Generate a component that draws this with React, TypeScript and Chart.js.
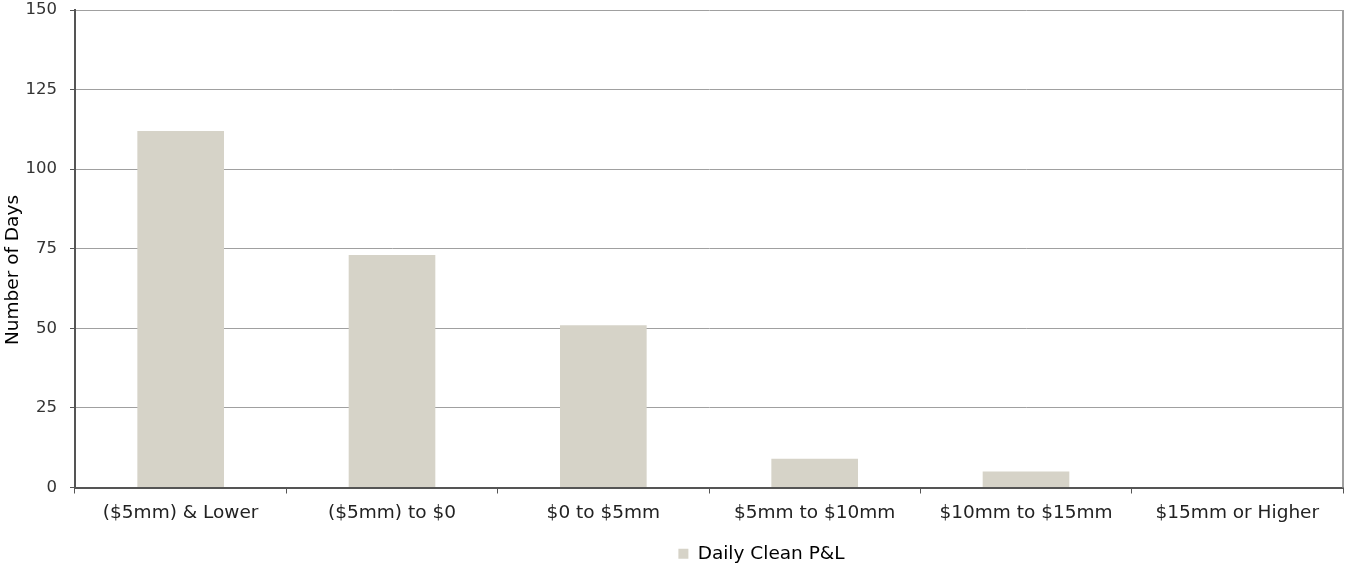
import React, { useEffect, useRef } from "react";
import { Chart, registerables } from "chart.js";

Chart.register(...registerables);

const categories = [
  "($5mm) & Lower",
  "($5mm) to $0",
  "$0 to $5mm",
  "$5mm to $10mm",
  "$10mm to $15mm",
  "$15mm or Higher",
];
const seriesName = "Daily Clean P&L";
const dailyCleanPL = [112, 73, 51, 9, 5, 0];
const yTicks = [0, 25, 50, 75, 100, 125, 150];
const yTitle = "Number of Days";

const FONT = "'DejaVu Sans', Verdana, sans-serif";
const BAR_COLOR = "#d6d3c8";
const CANVAS_H = 573;

const decorations = {
  id: "decorations",
  afterLayout(chart: any) {
    const lg = chart.legend;
    if (lg) {
      lg.left += 90;
      lg.right += 90;
    }
  },
  afterDraw(chart: any) {
    const { ctx, chartArea } = chart;
    ctx.save();
    ctx.strokeStyle = "#a0a0a0";
    ctx.lineWidth = 2;
    ctx.beginPath();
    ctx.moveTo(chartArea.right, chartArea.top);
    ctx.lineTo(chartArea.right, chartArea.bottom);
    ctx.stroke();
    ctx.translate(13, 270);
    ctx.rotate(-Math.PI / 2);
    ctx.font = `18.5px ${FONT}`;
    ctx.fillStyle = "#000";
    ctx.textAlign = "center";
    ctx.textBaseline = "middle";
    ctx.fillText(yTitle, 0, 0);
    ctx.restore();
  },
};

export default function App() {
  const ref = useRef<HTMLCanvasElement | null>(null);
  useEffect(() => {
    document.body.style.margin = "0";
    document.body.style.overflow = "hidden";
    if (!ref.current) return;
    const chart = new Chart(ref.current, {
      type: "bar",
      data: {
        labels: categories,
        datasets: [
          {
            label: seriesName,
            data: dailyCleanPL,
            backgroundColor: BAR_COLOR,
            borderWidth: 0,
            categoryPercentage: 1,
            barPercentage: 0.41,
          },
        ],
      },
      options: {
        animation: false,
        responsive: false,
        maintainAspectRatio: false,
        layout: { padding: { top: 10, right: 3, left: 0, bottom: 0 } },
        plugins: {
          tooltip: { enabled: false },
          legend: {
            position: "bottom",
            labels: {
              font: { family: FONT, size: 18.5 },
              color: "#000",
              boxWidth: 10,
              boxHeight: 10,
              padding: 1,
            },
          },
        },
        scales: {
          x: {
            afterFit(scale: any) {
              scale.height = 56;
              scale.paddingLeft = 0;
              scale.paddingRight = 0;
            },
            grid: {
              display: true,
              drawOnChartArea: false,
              offset: true,
              tickLength: 6,
              tickColor: "#555",
            },
            border: { color: "#555", width: 2 },
            ticks: {
              font: { family: FONT, size: 18.5 },
              color: "#222",
              padding: 9,
              maxRotation: 0,
            },
          },
          y: {
            min: 0,
            max: 150,
            afterBuildTicks(scale: any) {
              scale.ticks = yTicks.map((v) => ({ value: v }));
            },
            afterFit(scale: any) {
              scale.width = 75;
              scale.paddingTop = 0;
              scale.paddingBottom = 0;
            },
            grid: {
              color: "#a0a0a0",
              tickColor: "#555",
              tickLength: 5,
              lineWidth: 1,
            },
            border: { color: "#555", width: 2 },
            ticks: {
              font: { family: FONT, size: 16.5 },
              color: "#333",
              padding: 13,
            },
          },
        },
      },
      plugins: [decorations],
    });
    return () => chart.destroy();
  }, []);
  return (
    <div style={{ position: "absolute", left: 0, top: 0, width: 1346, height: 565, overflow: "hidden" }}>
      <canvas ref={ref} width={1346} height={CANVAS_H} style={{ width: 1346, height: CANVAS_H }} />
    </div>
  );
}
